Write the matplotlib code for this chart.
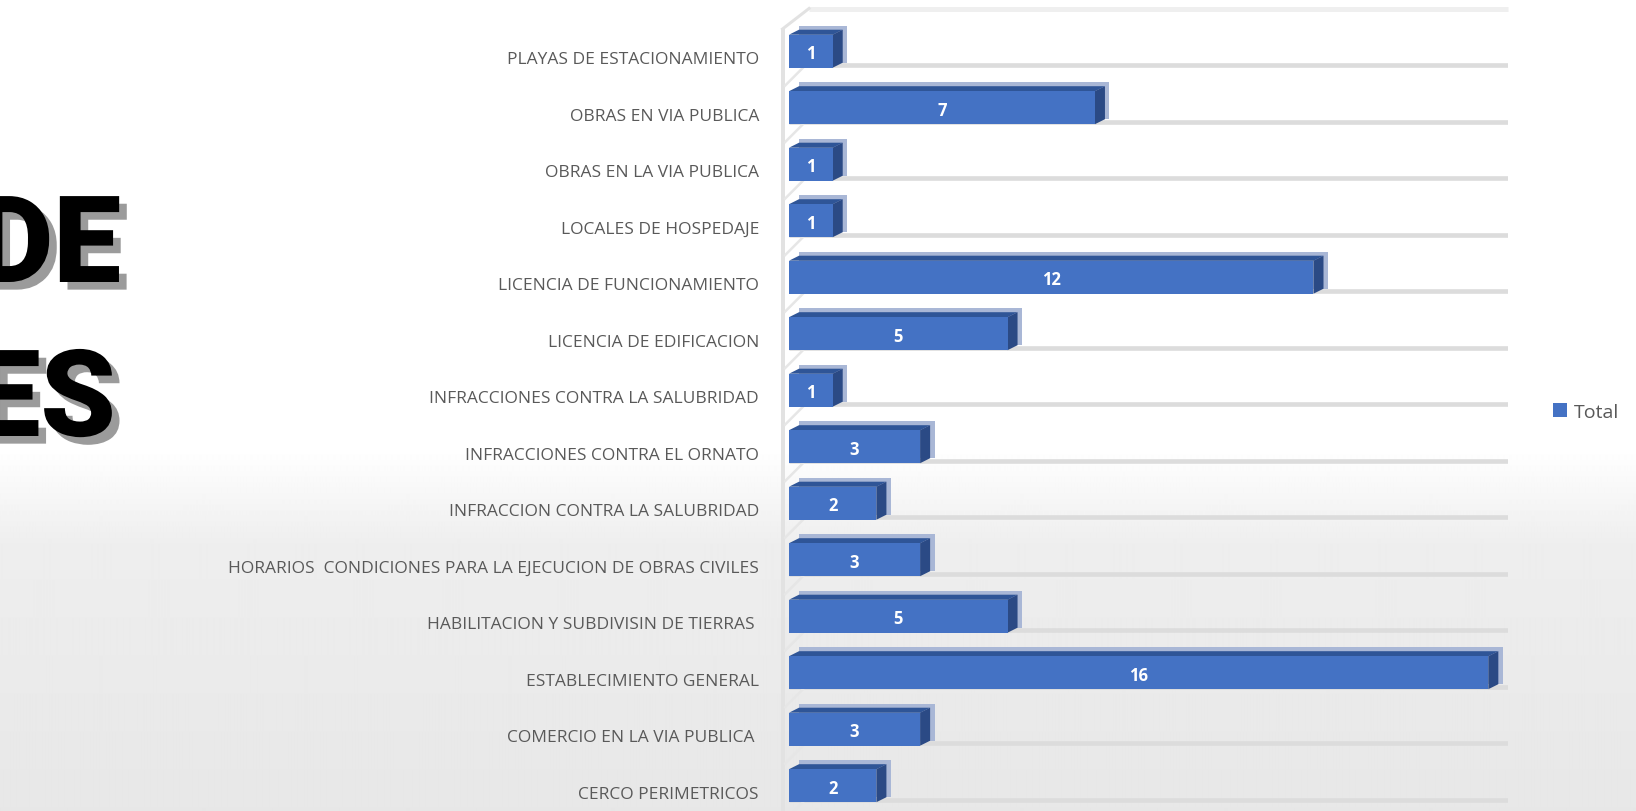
import numpy as np
import matplotlib
matplotlib.use("Agg")
import matplotlib.pyplot as plt
from matplotlib.patches import Polygon, Patch
from matplotlib.transforms import ScaledTranslation
import matplotlib.patheffects as pe

# ---------------- data ----------------
categories = [
    "PLAYAS DE ESTACIONAMIENTO",
    "OBRAS EN VIA PUBLICA",
    "OBRAS EN LA VIA PUBLICA",
    "LOCALES DE HOSPEDAJE",
    "LICENCIA DE FUNCIONAMIENTO",
    "LICENCIA DE EDIFICACION",
    "INFRACCIONES CONTRA LA SALUBRIDAD",
    "INFRACCIONES CONTRA EL ORNATO",
    "INFRACCION CONTRA LA SALUBRIDAD",
    "HORARIOS  CONDICIONES PARA LA EJECUCION DE OBRAS CIVILES",
    "HABILITACION Y SUBDIVISIN DE TIERRAS ",
    "ESTABLECIMIENTO GENERAL",
    "COMERCIO EN LA VIA PUBLICA ",
    "CERCO PERIMETRICOS",
]
totals = [1, 7, 1, 1, 12, 5, 1, 3, 2, 3, 5, 16, 3, 2]
series_name = "Total"
title_fragments = ["DE", "ES"]

# ---------------- layout ----------------
W, H, DPI = 1636, 812, 100
fig = plt.figure(figsize=(W / DPI, H / DPI), dpi=DPI)

# background: white fading to light grey towards the bottom
bg = fig.add_axes([0, 0, 1, 1], zorder=-10)
bg.set_axis_off()
rows = np.arange(H)
shade = np.interp(rows, [0, 450, 545, 812], [255, 255, 238, 231])
bg.imshow(np.tile(shade[:, None], (1, 8)), cmap="gray", vmin=0, vmax=255,
          aspect="auto", extent=[0, 1, 0, 1], interpolation="bilinear")
bg.set_xlim(0, 1)
bg.set_ylim(0, 1)

XMAX = 16.45
X0_PX, X1_PX = 789, 1508
PX = (X1_PX - X0_PX) / XMAX          # pixels per value unit
PY = 56.5                            # pixels per category
ROW0 = 52.2                          # pixel y of first category centre

ax = fig.add_axes([X0_PX / W, 0, (X1_PX - X0_PX) / W, 1])
ax.patch.set_alpha(0)
ax.set_xlim(0, XMAX)
ax.set_ylim((H - ROW0) / PY, -ROW0 / PY)
for s in ax.spines.values():
    s.set_visible(False)
ax.set_xticks([])


def ypx(p):
    return (p - ROW0) / PY


def xpx(p):
    return (p - X0_PX) / PX


n = len(categories)
y = np.arange(n)
h = 33 / PY
dx = 10 / PX
dy = 5 / PY
halo_x = 4.5 / PX
halo_y = 4.0 / PY

front = "#4472C4"
top_c = "#2F5597"
side_c = "#2B4A85"
halo_c = "#A9B7D6"
grid_c = "#DCDCDC"
wall_c = "#E2E2E2"

# wall and top edge
ax.plot([xpx(782.5)] * 2, [ypx(30), ypx(H)], color=wall_c, lw=4 * 0.72,
        clip_on=False, zorder=1, solid_capstyle="butt")
ax.plot([xpx(809), XMAX], [ypx(9.5)] * 2, color="#EFEFEF", lw=5 * 0.72,
        clip_on=False, zorder=1, solid_capstyle="butt")
ax.plot([xpx(809), xpx(782.5)], [ypx(9.5), ypx(30)], color=wall_c, lw=3 * 0.72,
        clip_on=False, zorder=1)

# floor lines
for yi in y:
    bot = yi + h / 2
    ax.plot([0, XMAX], [bot - 2.3 / PY] * 2, color=grid_c, lw=4.6 * 0.72,
            solid_capstyle="butt", zorder=1)
    ax.plot([xpx(803), xpx(785)], [bot, bot + 18 / PY], color="#E6E6E6",
            lw=2.5 * 0.72, zorder=1, clip_on=False)

# 3D-looking bars
val_offset = ScaledTranslation(0, -2 / DPI, fig.dpi_scale_trans)
bars = ax.barh(y, totals, height=h, color=front, zorder=4)
for rect, v in zip(bars, totals):
    top = rect.get_y()
    bot = top + rect.get_height()
    ax.add_patch(Polygon([(dx, top - dy - halo_y), (v + dx + halo_x, top - dy - halo_y),
                          (v + dx + halo_x, bot - dy), (dx, bot - dy)],
                         closed=True, facecolor=halo_c, edgecolor="none", zorder=2))
    ax.add_patch(Polygon([(0, top), (v, top), (v + dx, top - dy), (dx, top - dy)],
                         closed=True, facecolor=top_c, edgecolor="none", zorder=3))
    ax.add_patch(Polygon([(v, top), (v + dx, top - dy), (v + dx, bot - dy), (v, bot)],
                         closed=True, facecolor=side_c, edgecolor="none", zorder=3))
    ax.text(v / 2, rect.get_y() + rect.get_height() / 2, str(v), color="white",
            fontsize=12, fontweight="bold", family=["Open Sans", "DejaVu Sans"],
            ha="center", va="center", zorder=6,
            transform=ax.transData + val_offset)

# category labels
ax.set_yticks(y)
ax.set_yticklabels(categories, fontsize=12.5, color="#595959",
                   family=["Open Sans", "DejaVu Sans"])
ax.tick_params(axis="y", length=0, pad=30 * 0.72)
for lab in ax.get_yticklabels():
    lab.set_transform(lab.get_transform() + ScaledTranslation(0, -6 / DPI, fig.dpi_scale_trans))

# legend
fig.legend(handles=[Patch(facecolor=front, label=series_name)], loc="center left",
           bbox_to_anchor=(1553 / W, 1 - 413 / H), frameon=False,
           prop={"family": ["Open Sans", "DejaVu Sans"], "size": 14},
           labelcolor="#595959", handlelength=0.7, handleheight=0.7,
           handletextpad=0.35, borderpad=0, borderaxespad=0)

# partially visible slide title on the left
shadow = [pe.SimplePatchShadow(offset=(5.5, -5.5), shadow_rgbFace="#7A7A7A", alpha=0.75),
          pe.Normal()]
fig.text(121 / W, 1 - 283 / H, title_fragments[0], ha="right", va="baseline",
         fontsize=87, fontweight="black", family=["Roboto", "DejaVu Sans"],
         color="black", path_effects=shadow)
fig.text(116 / W, 1 - 437 / H, title_fragments[1], ha="right", va="baseline",
         fontsize=87, fontweight="black", family=["Roboto", "DejaVu Sans"],
         color="black", path_effects=shadow)

fig.savefig("out.png", dpi=DPI)
